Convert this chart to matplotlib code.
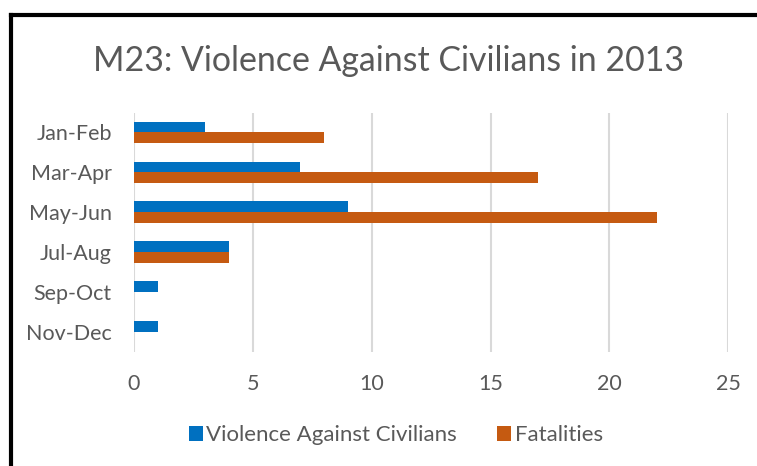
import matplotlib.pyplot as plt
import numpy as np
from matplotlib.lines import Line2D

plt.rcParams['font.family'] = ['Lato', 'DejaVu Sans']

periods = ['Jan-Feb', 'Mar-Apr', 'May-Jun', 'Jul-Aug', 'Sep-Oct', 'Nov-Dec']
violence = [3, 7, 9, 4, 1, 1]
fatalities = [8, 17, 22, 4, 0, 0]

blue = '#0070C0'
orange = '#C55A11'
grey = '#595959'

fig = plt.figure(figsize=(7.57, 4.66), dpi=100)
ax = fig.add_axes([0.177, 0.2455, 0.785, 0.513])

y = np.arange(len(periods))
h = 0.27
ax.barh(y - h / 2, violence, height=h, color=blue, label='Violence Against Civilians', zorder=3)
ax.barh(y + h / 2, fatalities, height=h, color=orange, label='Fatalities', zorder=3)

ax.set_xlim(0, 25)
ax.set_ylim(len(periods) - 0.5, -0.5)
ax.set_xticks([0, 5, 10, 15, 20, 25])
ax.set_yticks(y)
ax.set_yticklabels(periods)
ax.tick_params(length=0, labelsize=15.5, colors=grey)
ax.tick_params(axis='y', pad=16)
ax.tick_params(axis='x', pad=16)
ax.grid(axis='x', color='#d9d9d9', linewidth=1.5, zorder=0)
for s in ax.spines.values():
    s.set_visible(False)

fig.text(0.513, 0.87, 'M23: Violence Against Civilians in 2013', ha='center', va='center',
         fontsize=24.4, color=grey)

ax.legend(loc='center', bbox_to_anchor=(0.523, 0.066), bbox_transform=fig.transFigure,
          ncol=2, frameon=False, fontsize=16, labelcolor=grey, handlelength=0.63,
          handleheight=0.63, handletextpad=0.15, columnspacing=1.8)

# outer chart frame (clipped on right/bottom as in the reference)
fig.add_artist(Line2D([0.0145, 1.0], [0.968, 0.968], transform=fig.transFigure, color='black', lw=3))
fig.add_artist(Line2D([0.0145, 0.0145], [0.0, 0.968], transform=fig.transFigure, color='black', lw=3))

fig.savefig('out.png', dpi=100)
